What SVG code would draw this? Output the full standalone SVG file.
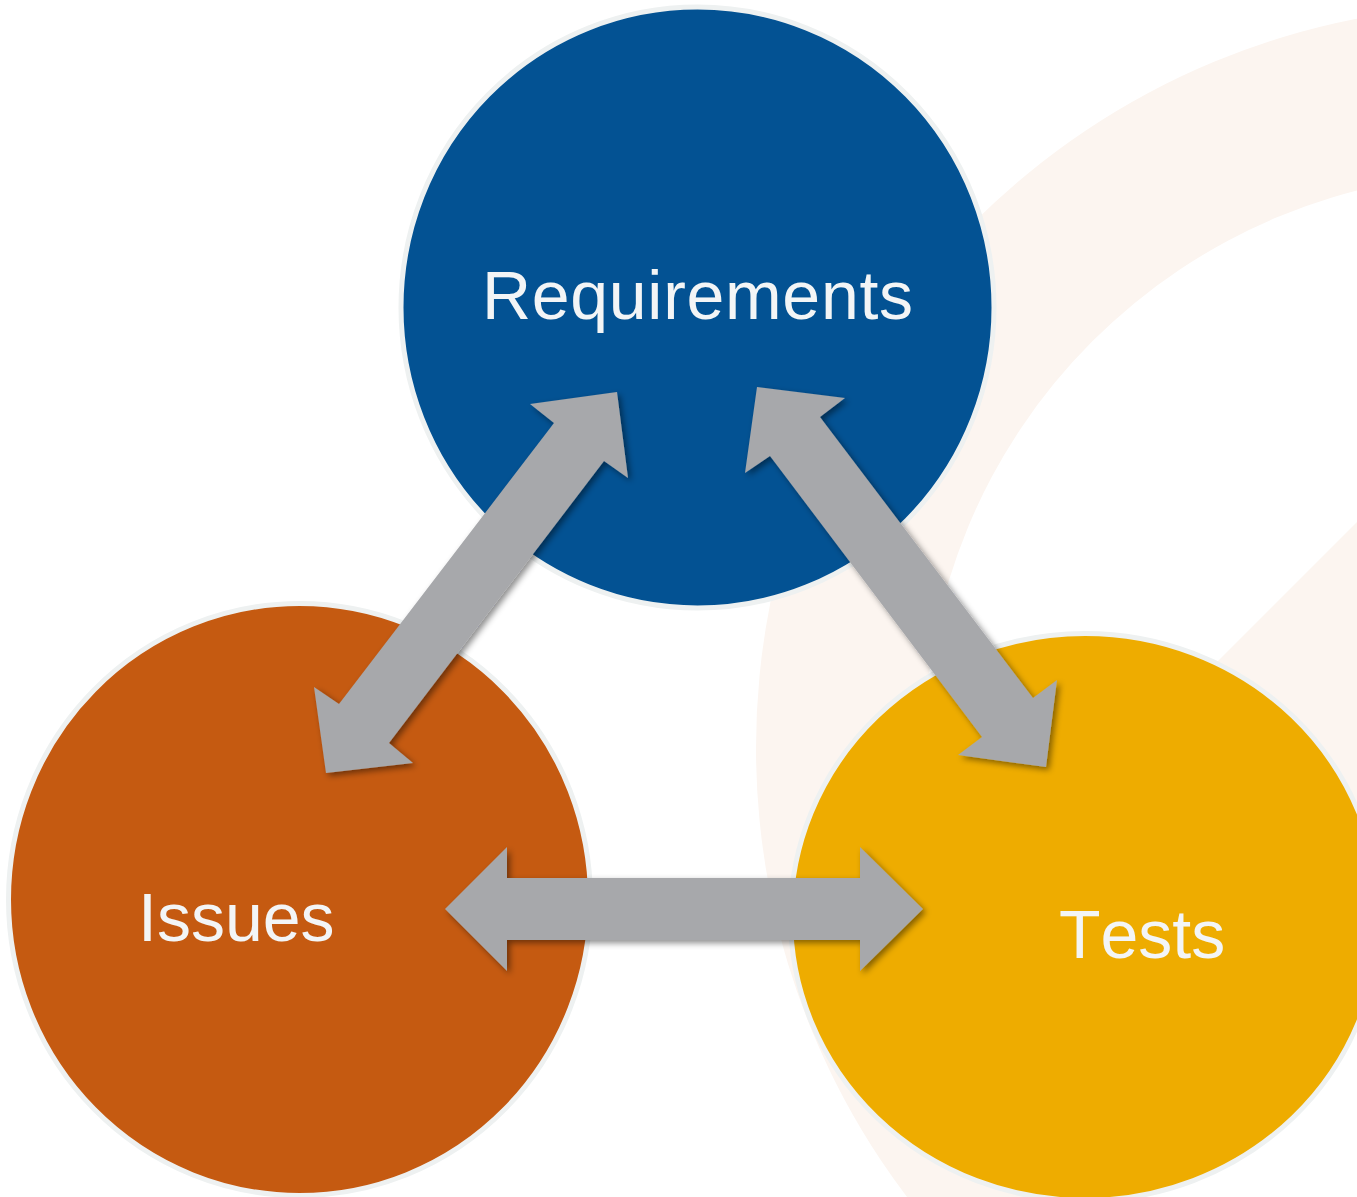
<svg xmlns="http://www.w3.org/2000/svg" width="1357" height="1197" viewBox="0 0 1357 1197">
  <defs>
    <filter id="shadow" x="-20%" y="-20%" width="140%" height="140%">
      <feDropShadow dx="3" dy="3" stdDeviation="3" flood-color="#000" flood-opacity="0.45"/>
    </filter>
  </defs>
  <style>
    .bg { fill: #fcf5f0; }
    .node { stroke: #eef1f1; stroke-width: 5; }
    .label { font-family: "Liberation Sans", Arial, sans-serif; font-size: 68px; fill: #f3f5f6; font-kerning: none; }
    .arrow { fill: #a7a8ab; filter: url(#shadow); }
  </style>
  <rect x="0" y="0" width="1357" height="1197" fill="#ffffff"/>
  <g id="background">
    <path class="bg" fill-rule="evenodd" d="M 756 748 A 743 743 0 1 1 2242 748 A 743 743 0 1 1 756 748 Z M 924 748 A 575 575 0 1 0 2074 748 A 575 575 0 1 0 924 748 Z"/>
    <polygon class="bg" points="1357,522 1217,662 1100,779 1150,900 1357,900"/>
  </g>
  <g id="node-requirements">
    <ellipse class="node" cx="697.5" cy="307.5" rx="296.5" ry="300.5" fill="#035293"/>
    <text class="label" x="482" y="319" font-size="70" textLength="431" lengthAdjust="spacing">Requirements</text>
  </g>
  <g id="node-issues">
    <ellipse class="node" cx="299.5" cy="899.5" rx="291" ry="296" fill="#c55a11"/>
    <text class="label" x="138" y="941">Issues</text>
  </g>
  <g id="node-tests">
    <ellipse class="node" cx="1085" cy="917" rx="294.5" ry="283.5" fill="#eeac00"/>
    <text class="label" x="1059" y="958" font-size="70">Tests</text>
  </g>
  <g id="connectors">
    <polygon class="arrow" points="617,392 628,478 604,461 389,743 413,763 326,773 314,687 339,704 554,423 530,404"/>
    <polygon class="arrow" points="757,387 845,398 820,417 1033,698 1057,680 1046,767 958,755 982,737 770,456 745,473"/>
    <polygon class="arrow" points="445,909 507,847 507,878 860,878 860,847 923,909 860,971 860,940 507,940 507,971"/>
  </g>
</svg>
